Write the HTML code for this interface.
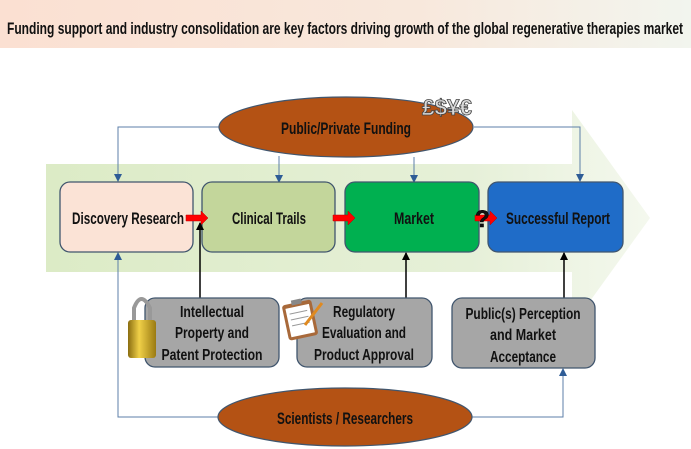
<!DOCTYPE html>
<html><head><meta charset="utf-8"><style>
html,body{margin:0;padding:0;background:#fff;width:691px;height:449px;overflow:hidden}
text{font-family:"Liberation Sans",sans-serif;font-weight:bold;fill:#111}
</style></head><body>
<svg width="691" height="449" viewBox="0 0 691 449" xmlns="http://www.w3.org/2000/svg">
<defs>
<linearGradient id="ban" x1="0" x2="1"><stop offset="0" stop-color="#fbe0d2"/><stop offset="0.6" stop-color="#f8e8dc"/><stop offset="1" stop-color="#f2f5ee"/></linearGradient>
<linearGradient id="grn" x1="0" x2="1"><stop offset="0" stop-color="#dcebc6"/><stop offset="0.7" stop-color="#e6f0d8"/><stop offset="1" stop-color="#f4f8ee"/></linearGradient>
<linearGradient id="lock" x1="0" x2="1"><stop offset="0" stop-color="#8a6d10"/><stop offset="0.4" stop-color="#f0d048"/><stop offset="1" stop-color="#9a7a12"/></linearGradient>
<marker id="ab" markerWidth="8" markerHeight="8" refX="7" refY="4" orient="auto" markerUnits="userSpaceOnUse"><path d="M0,0 L8,4 L0,8 z" fill="#2e5c96"/></marker>
<marker id="abk" markerWidth="8" markerHeight="8" refX="7" refY="4" orient="auto" markerUnits="userSpaceOnUse"><path d="M0,0 L8,4 L0,8 z" fill="#000"/></marker>
</defs>
<rect x="0" y="0" width="691" height="48" fill="url(#ban)"/>
<text x="345" y="34" font-size="17" text-anchor="middle" textLength="676" lengthAdjust="spacingAndGlyphs">Funding support and industry consolidation are key factors driving growth of the global regenerative therapies market</text>
<path d="M46,164 L572,164 L572,110 L650,218 L572,326 L572,272 L46,272 z" fill="url(#grn)"/>
<g stroke="#5c7fa8" stroke-width="1" fill="none">
<path d="M219,127 L118,127 L118,181" marker-end="url(#ab)"/>
<path d="M474,127 L580,127 L580,181" marker-end="url(#ab)"/>
<path d="M279,156 L279,182" marker-end="url(#ab)"/>
<path d="M414,157 L414,182" marker-end="url(#ab)"/>
<path d="M218,417 L118,417 L118,253" marker-end="url(#ab)"/>
<path d="M472,417 L563,417 L563,369" marker-end="url(#ab)"/>
</g>
<ellipse cx="346" cy="127" rx="127" ry="30" fill="#b45214" stroke="#41566e" stroke-width="1.2"/>
<text x="346" y="134" font-size="16.5" text-anchor="middle" textLength="130" lengthAdjust="spacingAndGlyphs">Public/Private Funding</text>
<text x="422" y="115" font-size="22" style="fill:#d9d9d9;stroke:#444;stroke-width:0.8" textLength="50" lengthAdjust="spacingAndGlyphs">£$¥€</text>
<g stroke="#41566e" stroke-width="1.3">
<rect x="60" y="182" width="133" height="70" rx="10" fill="#fbe3d6"/>
<rect x="202" y="182" width="133" height="70" rx="10" fill="#c3d69b"/>
<rect x="345" y="182" width="134" height="70" rx="10" fill="#00b050"/>
<rect x="488" y="182" width="135" height="70" rx="10" fill="#1f6cc8"/>
</g>
<g font-size="16.5">
<text x="72" y="224" textLength="112" lengthAdjust="spacingAndGlyphs">Discovery Research</text>
<text x="232" y="224" textLength="74" lengthAdjust="spacingAndGlyphs">Clinical Trails</text>
<text x="394" y="224" textLength="40" lengthAdjust="spacingAndGlyphs">Market</text>
<text x="506" y="224" textLength="104" lengthAdjust="spacingAndGlyphs">Successful Report</text>
</g>
<g fill="#ff0000" stroke="#b00" stroke-width="0.5">
<path d="M186,215 L201,215 L201,211 L208,218 L201,225 L201,221 L186,221 z"/>
<path d="M333,215 L348,215 L348,211 L355,218 L348,225 L348,221 L333,221 z"/>
<path d="M475,215 L490,215 L490,211 L497,218 L490,225 L490,221 L475,221 z"/>
</g>
<text x="475" y="227" font-size="24" style="stroke:#000;stroke-width:0.5">?</text>
<g stroke="#000" stroke-width="1.5" fill="none">
<path d="M200,300 L200,223" marker-end="url(#abk)"/>
<path d="M406,300 L406,253" marker-end="url(#abk)"/>
<path d="M564,300 L564,253" marker-end="url(#abk)"/>
</g>
<g stroke="#41566e" stroke-width="1.3" fill="#a6a6a6">
<rect x="145" y="298" width="134" height="69" rx="10"/>
<rect x="297" y="298" width="135" height="69" rx="10"/>
<rect x="452" y="298" width="143" height="70" rx="10"/>
</g>
<g font-size="16" text-anchor="middle">
<text x="212" y="317" textLength="64" lengthAdjust="spacingAndGlyphs">Intellectual</text><text x="212" y="338" textLength="74" lengthAdjust="spacingAndGlyphs">Property and</text><text x="212" y="360" textLength="101" lengthAdjust="spacingAndGlyphs">Patent Protection</text>
<text x="364" y="317" textLength="62" lengthAdjust="spacingAndGlyphs">Regulatory</text><text x="364" y="338" textLength="84" lengthAdjust="spacingAndGlyphs">Evaluation and</text><text x="364" y="360" textLength="100" lengthAdjust="spacingAndGlyphs">Product Approval</text>
<text x="523" y="319" textLength="115" lengthAdjust="spacingAndGlyphs">Public(s) Perception</text><text x="523" y="340" textLength="66" lengthAdjust="spacingAndGlyphs">and Market</text><text x="523" y="362" textLength="66" lengthAdjust="spacingAndGlyphs">Acceptance</text>
</g>
<path d="M134,322 L134,308 Q141,290 150,308 L150,322" stroke="#999" stroke-width="4" fill="none"/>
<rect x="128" y="320" width="28" height="38" rx="3" fill="url(#lock)"/>
<g transform="rotate(-12 300 315)">
<rect x="284" y="302" width="30" height="36" rx="3" fill="#a8693a"/>
<rect x="287" y="306" width="24" height="29" fill="#fff"/>
<rect x="294" y="299" width="10" height="5" fill="#888"/>
<g stroke="#999" stroke-width="1"><line x1="290" y1="312" x2="308" y2="312"/><line x1="290" y1="318" x2="308" y2="318"/><line x1="290" y1="324" x2="308" y2="324"/></g>
</g>
<line x1="305" y1="325" x2="322" y2="303" stroke="#e08a20" stroke-width="3"/>
<ellipse cx="345" cy="417" rx="127" ry="29" fill="#b45214" stroke="#41566e" stroke-width="1.2"/>
<text x="345" y="424" font-size="16.5" text-anchor="middle" textLength="136" lengthAdjust="spacingAndGlyphs">Scientists / Researchers</text>
</svg>
</body></html>
